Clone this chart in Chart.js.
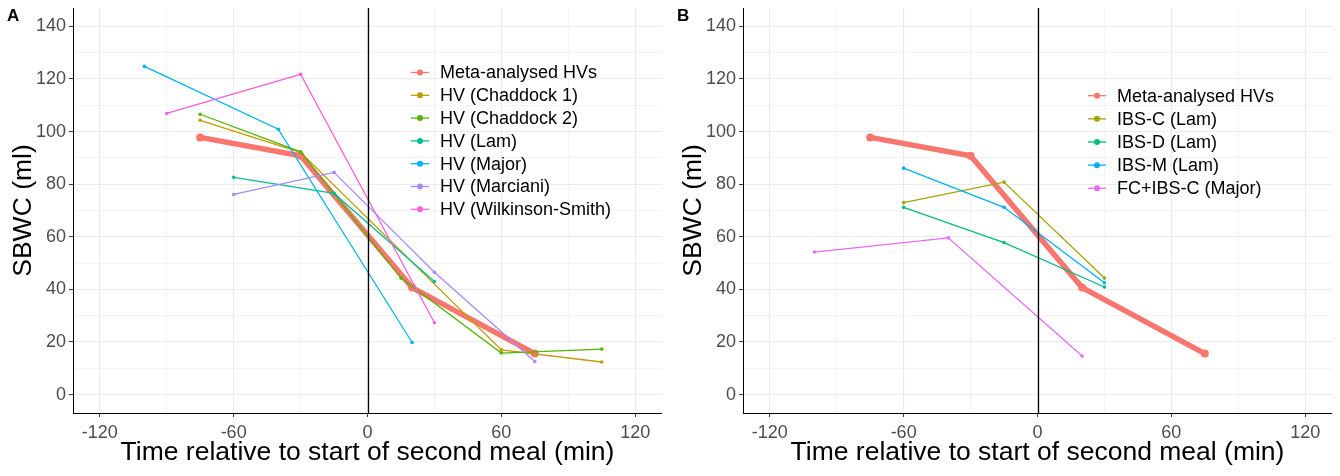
<!DOCTYPE html>
<html><head><meta charset="utf-8">
<script src="https://cdn.jsdelivr.net/npm/chart.js@4/dist/chart.umd.min.js"></script>
<style>
html,body{margin:0;padding:0;background:#fff;width:1340px;height:476px;overflow:hidden;}
.panel{position:absolute;top:0;width:670px;height:476px;}
.tag{position:absolute;top:6px;font:bold 17px "Liberation Sans",Arial,sans-serif;color:#000;}
</style></head><body>
<div class="panel" style="left:0"><canvas id="cA" width="670" height="476"></canvas></div>
<div class="panel" style="left:670px"><canvas id="cB" width="670" height="476"></canvas></div>
<div class="tag" style="left:7px">A</div>
<div class="tag" style="left:677px">B</div>
<script>
// ---- Data (time relative to start of second meal, min / SBWC, ml) ----
const tMeta = [-75, -30, 20, 75];
const sbwcMeta = [97.8, 90.8, 40.7, 15.6];

const tChaddock1 = [-75, -30, 60, 105];
const sbwcChaddock1 = [104.3, 92.1, 17.0, 12.4];
const tChaddock2 = [-75, -30, 15, 60, 105];
const sbwcChaddock2 = [106.6, 92.3, 44.3, 15.8, 17.3];
const tLam = [-60, -15, 30];
const sbwcLam = [82.6, 76.5, 43.0];
const tMajor = [-100, -40, 20];
const sbwcMajor = [124.8, 100.9, 19.8];
const tMarciani = [-60, -15, 30, 75];
const sbwcMarciani = [76.1, 84.5, 46.5, 12.6];
const tWilkinson = [-90, -30, 30];
const sbwcWilkinson = [106.9, 121.8, 27.3];

const tIBSC = [-60, -15, 30];
const sbwcIBSC = [73.0, 80.8, 44.3];
const tIBSD = [-60, -15, 30];
const sbwcIBSD = [71.2, 57.8, 40.9];
const tIBSM = [-60, -15, 30];
const sbwcIBSM = [86.1, 71.2, 42.5];
const tFCIBSC = [-100, -40, 20];
const sbwcFCIBSC = [54.2, 59.6, 14.7];

const labelsA = ['Meta-analysed HVs','HV (Chaddock 1)','HV (Chaddock 2)','HV (Lam)','HV (Major)','HV (Marciani)','HV (Wilkinson-Smith)'];
const labelsB = ['Meta-analysed HVs','IBS-C (Lam)','IBS-D (Lam)','IBS-M (Lam)','FC+IBS-C (Major)'];

const xMajorTicks = [-120, -60, 0, 60, 120];
const xMinorTicks = [-90, -30, 30, 90];
const yMajorTicks = [0, 20, 40, 60, 80, 100, 120, 140];
const yMinorTicks = [10, 30, 50, 70, 90, 110, 130];
const xLimits = [-132, 132];
const yLimits = [-7, 147];
const refLineX = 0;

// ---- Styling ----
const FONT = '"Liberation Sans", Arial, Helvetica, sans-serif';
const colorsA = ['#F8766D','#C49A00','#53B400','#00C094','#00B6EB','#A58AFF','#FB61D7'];
const colorsB = ['#F8766D','#A3A500','#00BF7D','#00B0F6','#E76BF3'];

function pts(t, v){ return t.map((x,i)=>({x:x, y:v[i]})); }

function makeDatasets(series, labels, colors){
  const n = series.length;
  return series.map((s,i)=>{
    const isMeta = i===0;
    return {
      label: labels[i],
      data: pts(s[0], s[1]),
      borderColor: colors[i],
      backgroundColor: colors[i],
      borderWidth: isMeta ? 5.5 : 1.3,
      pointRadius: isMeta ? 4 : 1.8,
      pointBorderWidth: 0,
      pointHoverRadius: isMeta ? 4 : 1.8,
      showLine: true,
      tension: 0,
      order: isMeta ? 100 : (n - i)
    };
  });
}

const insideLegend = {
  id: 'insideLegend',
  afterDraw(chart, args, opts){
    const ctx = chart.ctx;
    ctx.save();
    ctx.font = '18px ' + FONT;
    ctx.textBaseline = 'middle';
    ctx.textAlign = 'left';
    chart.data.datasets.forEach((ds,i)=>{
      const y = opts.y + i*opts.dy;
      ctx.strokeStyle = ds.borderColor; ctx.lineWidth = 1.3;
      ctx.beginPath(); ctx.moveTo(opts.x-9, y); ctx.lineTo(opts.x+9, y); ctx.stroke();
      ctx.fillStyle = ds.borderColor;
      ctx.beginPath(); ctx.arc(opts.x, y, 3, 0, Math.PI*2); ctx.fill();
      ctx.fillStyle = '#000';
      ctx.fillText(ds.label, opts.x + 20, y + 1);
    });
    ctx.restore();
  }
};

const vLine = {
  id: 'vLine',
  afterDatasetsDraw(chart){
    const {ctx, chartArea, scales} = chart;
    const px = Math.round(scales.x.getPixelForValue(refLineX)) + 0.5;
    ctx.save();
    ctx.strokeStyle = '#000'; ctx.lineWidth = 1.3;
    ctx.beginPath(); ctx.moveTo(px, chartArea.top); ctx.lineTo(px, chartArea.bottom); ctx.stroke();
    ctx.restore();
  }
};

function gridColor(){ return '#EBEBEB'; }

function makeScales(){
  return {
    x: {
      type: 'linear', min: xLimits[0], max: xLimits[1],
      afterBuildTicks(s){ s.ticks = xMajorTicks.concat(xMinorTicks).sort((a,b)=>a-b).map(v=>({value:v})); },
      afterFit(s){ s.height = 63; s.paddingLeft = 0; s.paddingRight = 0; },
      ticks: {
        autoSkip: false, maxRotation: 0, padding: 5, color: '#4D4D4D',
        font: {size: 18, family: FONT},
        callback: v => xMajorTicks.includes(v) ? String(v) : ''
      },
      grid: {
        color: gridColor,
        lineWidth: c => xMajorTicks.includes(c.tick && c.tick.value) ? 1.1 : 0.55,
        tickLength: 4,
        tickColor: c => xMajorTicks.includes(c.tick && c.tick.value) ? '#333333' : 'rgba(0,0,0,0)',
        tickWidth: 1
      },
      border: {display: true, color: '#000', width: 1},
      title: {display: true, text: 'Time relative to start of second meal (min)', color: '#000',
              font: {size: 26.5, family: FONT}, padding: {top: 0, bottom: 7}}
    },
    y: {
      type: 'linear', min: yLimits[0], max: yLimits[1],
      afterBuildTicks(s){ s.ticks = yMajorTicks.concat(yMinorTicks).sort((a,b)=>a-b).map(v=>({value:v})); },
      afterFit(s){ s.width = 73; s.paddingTop = 0; s.paddingBottom = 0; },
      ticks: {
        autoSkip: false, padding: 3, color: '#4D4D4D',
        font: {size: 18, family: FONT},
        callback: v => yMajorTicks.includes(v) ? String(v) : ''
      },
      grid: {
        color: gridColor,
        lineWidth: c => yMajorTicks.includes(c.tick && c.tick.value) ? 1.1 : 0.55,
        tickLength: 4,
        tickColor: c => yMajorTicks.includes(c.tick && c.tick.value) ? '#333333' : 'rgba(0,0,0,0)',
        tickWidth: 1
      },
      border: {display: true, color: '#000', width: 1},
      title: {display: true, text: 'SBWC (ml)', color: '#000',
              font: {size: 26.5, family: FONT}, padding: {top: 8, bottom: 0}}
    }
  };
}

function makeChart(id, series, labels, colors, legendPos){
  return new Chart(document.getElementById(id), {
    type: 'scatter',
    data: { datasets: makeDatasets(series, labels, colors) },
    options: {
      responsive: false, animation: false, devicePixelRatio: 1,
      layout: {padding: {left: 0, top: 8, right: 8, bottom: 0}},
      plugins: { legend: {display: false}, tooltip: {enabled: false}, insideLegend: legendPos },
      scales: makeScales()
    },
    plugins: [insideLegend, vLine]
  });
}

makeChart('cA', [
  [tMeta, sbwcMeta], [tChaddock1, sbwcChaddock1], [tChaddock2, sbwcChaddock2],
  [tLam, sbwcLam], [tMajor, sbwcMajor], [tMarciani, sbwcMarciani], [tWilkinson, sbwcWilkinson]
], labelsA, colorsA, {x: 420, y: 72.5, dy: 22.8});

makeChart('cB', [
  [tMeta, sbwcMeta], [tIBSC, sbwcIBSC], [tIBSD, sbwcIBSD], [tIBSM, sbwcIBSM], [tFCIBSC, sbwcFCIBSC]
], labelsB, colorsB, {x: 427, y: 95.7, dy: 23.15});
</script>
</body></html>
